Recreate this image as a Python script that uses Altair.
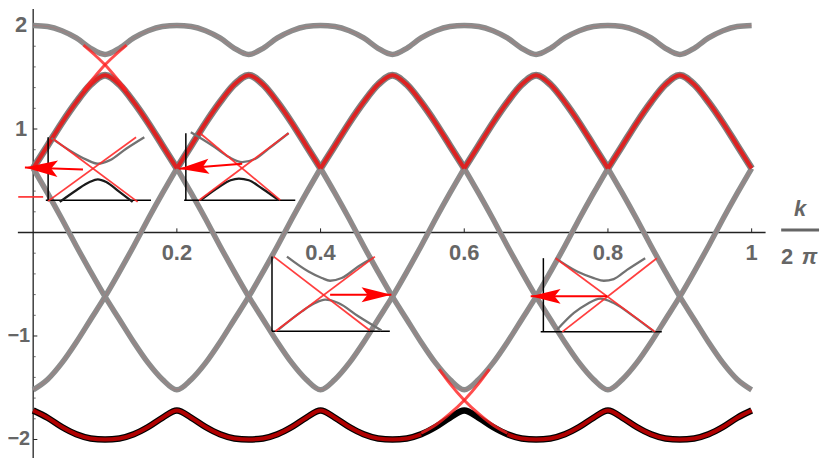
import altair as alt
import pandas as pd

# ---------------- data (x = k/2π, y = energy) ----------------
K = [round(i * 0.02, 2) for i in range(51)]

BAND_TOP = [2.00, 1.99, 1.95, 1.88, 1.78, 1.72, 1.78, 1.88, 1.95, 1.99,
            2.00, 1.99, 1.95, 1.88, 1.78, 1.72, 1.78, 1.88, 1.95, 1.99,
            2.00, 1.99, 1.95, 1.88, 1.78, 1.72, 1.78, 1.88, 1.95, 1.99,
            2.00, 1.99, 1.95, 1.88, 1.78, 1.72, 1.78, 1.88, 1.95, 1.99,
            2.00, 1.99, 1.95, 1.88, 1.78, 1.72, 1.78, 1.88, 1.95, 1.99,
            2.00]
BAND_SECOND = [0.62, 0.84, 1.06, 1.26, 1.43, 1.52, 1.43, 1.26, 1.06, 0.84,
               0.62, 0.84, 1.06, 1.26, 1.43, 1.52, 1.43, 1.26, 1.06, 0.84,
               0.62, 0.84, 1.06, 1.26, 1.43, 1.52, 1.43, 1.26, 1.06, 0.84,
               0.62, 0.84, 1.06, 1.26, 1.43, 1.52, 1.43, 1.26, 1.06, 0.84,
               0.62, 0.84, 1.06, 1.26, 1.43, 1.52, 1.43, 1.26, 1.06, 0.84,
               0.62]
BAND_DOWN = [0.62, 0.38, 0.13, -0.13, -0.38, -0.62, -0.84, -1.06, -1.26, -1.42,
             -1.52, -1.42, -1.26, -1.06, -0.84, -0.62, -0.38, -0.13, 0.13, 0.38,
             0.62, 0.38, 0.13, -0.13, -0.38, -0.62, -0.84, -1.06, -1.26, -1.42,
             -1.52, -1.42, -1.26, -1.06, -0.84, -0.62, -0.38, -0.13, 0.13, 0.38,
             0.62, 0.38, 0.13, -0.13, -0.38, -0.62, -0.84, -1.06, -1.26, -1.42,
             -1.52]
BAND_UP = [-1.52, -1.42, -1.26, -1.06, -0.84, -0.62, -0.38, -0.13, 0.13, 0.38,
           0.62, 0.38, 0.13, -0.13, -0.38, -0.62, -0.84, -1.06, -1.26, -1.42,
           -1.52, -1.42, -1.26, -1.06, -0.84, -0.62, -0.38, -0.13, 0.13, 0.38,
           0.62, 0.38, 0.13, -0.13, -0.38, -0.62, -0.84, -1.06, -1.26, -1.42,
           -1.52, -1.42, -1.26, -1.06, -0.84, -0.62, -0.38, -0.13, 0.13, 0.38,
           0.62]
BAND_BOTTOM = [-1.72, -1.79, -1.88, -1.95, -1.99, -2.00, -1.99, -1.95, -1.88, -1.79,
               -1.72, -1.79, -1.88, -1.95, -1.99, -2.00, -1.99, -1.95, -1.88, -1.79,
               -1.72, -1.79, -1.88, -1.95, -1.99, -2.00, -1.99, -1.95, -1.88, -1.79,
               -1.72, -1.79, -1.88, -1.95, -1.99, -2.00, -1.99, -1.95, -1.88, -1.79,
               -1.72, -1.79, -1.88, -1.95, -1.99, -2.00, -1.99, -1.95, -1.88, -1.79,
               -1.72]

# bright red crossings
CROSS_TOP_K = [0.07, 0.085, 0.10, 0.115, 0.13]
CROSS_TOP_A = [1.81, 1.72, 1.62, 1.50, 1.37]
CROSS_TOP_B = [1.37, 1.50, 1.62, 1.72, 1.81]
CROSS_BOT_KA = [0.54, 0.56, 0.58, 0.60, 0.62, 0.635]
CROSS_BOT_A = [-1.94, -1.86, -1.75, -1.62, -1.46, -1.32]
CROSS_BOT_KB = [0.565, 0.58, 0.60, 0.62, 0.64, 0.66]
CROSS_BOT_B = [-1.32, -1.46, -1.62, -1.75, -1.86, -1.94]

# insets (drawn in the main data coordinates)
INSET_AXES = [  # k1, k2, E1, E2
    (0.0208, 0.0208, 0.303, 0.921), (0.0176, 0.164, 0.3125, 0.3125),
    (0.2125, 0.2125, 0.3125, 0.960), (0.2101, 0.3648, 0.3125, 0.3125),
    (0.3324, 0.3324, -0.954, -0.233), (0.3324, 0.4964, -0.954, -0.954),
    (0.7101, 0.7101, -0.960, -0.248), (0.7064, 0.8749, -0.960, -0.960),
]
INSET_RED = [
    (0.0277, 0.1454, 0.906, 0.296), (0.0208, 0.1432, 0.303, 0.921),
    (0.2332, 0.3440, 0.954, 0.3125), (0.2309, 0.3555, 0.3125, 0.960),
    (0.3348, 0.4687, -0.233, -0.947), (0.3371, 0.4756, -0.954, -0.233),
    (0.7271, 0.8657, -0.248, -0.960), (0.7364, 0.8680, -0.960, -0.248),
    (-0.0208, 0.0139, 0.344, 0.344),
]
INSET_GREY = [
    ([0.0255, 0.0508, 0.0740, 0.0900, 0.1062, 0.1294, 0.1547],
     [0.912, 0.793, 0.704, 0.665, 0.697, 0.810, 0.921]),
    ([0.2194, 0.2493, 0.2724, 0.2909, 0.3094, 0.3278, 0.3555],
     [0.969, 0.841, 0.729, 0.681, 0.713, 0.810, 0.960]),
    ([0.3532, 0.3832, 0.4017, 0.4133, 0.4294, 0.4525, 0.4733],
     [-0.233, -0.377, -0.440, -0.466, -0.440, -0.329, -0.242]),
    ([0.3417, 0.3740, 0.3925, 0.4064, 0.4248, 0.4525, 0.4848],
     [-0.9375, -0.762, -0.681, -0.649, -0.681, -0.810, -0.947]),
    ([0.7271, 0.7572, 0.7803, 0.7942, 0.8080, 0.8265, 0.8518],
     [-0.248, -0.377, -0.440, -0.466, -0.450, -0.361, -0.248]),
    ([0.7294, 0.7526, 0.7711, 0.7895, 0.8080, 0.8357, 0.8634],
     [-0.9375, -0.777, -0.690, -0.639, -0.681, -0.810, -0.954]),
]
INSET_BLACK = [
    ([0.0370, 0.0601, 0.0785, 0.0900, 0.1017, 0.1201, 0.1385],
     [0.296, 0.409, 0.488, 0.514, 0.488, 0.392, 0.296]),
    ([0.2332, 0.2586, 0.2748, 0.2863, 0.3001, 0.3186, 0.3417],
     [0.3125, 0.440, 0.505, 0.521, 0.505, 0.425, 0.3125]),
]
ARROW_START_K = [0.0693, 0.2909, 0.4133, 0.7987]
ARROW_START_E = [0.608, 0.665, -0.601, -0.617]
ARROW_TIP_K = [-0.0115, 0.2032, 0.4986, 0.6925]
ARROW_TIP_E = [0.627, 0.617, -0.601, -0.617]
ARROW_ANGLE = [2, 355.5, 180, 0]
ARROW_SIZE = [4356, 3600, 3600, 3600]

Y_TICKS = [-2, -1, 1, 2]
Y_LABELS = ["\u22122", "\u22121", "1", "2"]
Y_MINOR = [-1.8, -1.6, -1.4, -1.2, -0.8, -0.6, -0.4, -0.2, 0.2, 0.4, 0.6, 0.8,
           1.2, 1.4, 1.6, 1.8]
X_TICKS = [0.2, 0.4, 0.6, 0.8, 1.0]
X_LABELS = ["0.2", "0.4", "0.6", "0.8", "1"]

# ---------------- chart geometry ----------------
W, H = 818, 451
K_MIN, K_MAX = -0.03504, 1.09792
E_MIN, E_MAX = -2.17789, 2.15865

XS = alt.Scale(domain=[K_MIN, K_MAX], nice=False, zero=False)
YS = alt.Scale(domain=[E_MIN, E_MAX], nice=False, zero=False)


def seg_df(ks, vs, bounds):
    rows = []
    for s in range(len(bounds) - 1):
        for i in range(bounds[s], bounds[s + 1] + 1):
            rows.append({"k": ks[i], "E": vs[i], "seg": s, "i": i})
    return pd.DataFrame(rows)


def line(df, color, width, opacity=1.0, interp="monotone"):
    return alt.Chart(df).mark_line(
        color=color, strokeWidth=width, opacity=opacity, interpolate=interp,
        strokeCap="butt", strokeJoin="round"
    ).encode(
        x=alt.X("k:Q", scale=XS, axis=None),
        y=alt.Y("E:Q", scale=YS, axis=None),
        detail="seg:N",
        order="i:Q",
    )


def rules(rows, color, width, opacity=1.0):
    df = pd.DataFrame(rows, columns=["k", "k2", "E", "E2"])
    return alt.Chart(df).mark_rule(color=color, strokeWidth=width, opacity=opacity).encode(
        x=alt.X("k:Q", scale=XS, axis=None), x2="k2:Q",
        y=alt.Y("E:Q", scale=YS, axis=None), y2="E2:Q",
    )


def curves_df(curves):
    rows = []
    for s, (ks, vs) in enumerate(curves):
        for i, (k, v) in enumerate(zip(ks, vs)):
            rows.append({"k": k, "E": v, "seg": s, "i": i})
    return pd.DataFrame(rows)


GREY = "#8c8c8c"
FAINT_RED = "#e04848"

layers = []

# axes
layers.append(rules([(-0.0213, 1.0194, 0, 0)], "#222222", 1.3))
layers.append(rules([(0, 0, E_MIN, E_MAX)], "#222222", 1.3))
layers.append(rules([(x, x, 0, 0.04) for x in X_TICKS], "#222222", 1.0))
layers.append(rules([(0, 0.0058, y, y) for y in Y_TICKS], "#222222", 1.0))
layers.append(rules([(0, 0.0035, y, y) for y in Y_MINOR], "#444444", 0.8))

# grey crossing bands
down = seg_df(K, BAND_DOWN, [0, 20, 40, 50])
up = seg_df(K, BAND_UP, [0, 10, 30, 50])
top = seg_df(K, BAND_TOP, [0, 50])
for d in (down, up, top):
    layers.append(line(d, GREY, 5.5))
    layers.append(line(d, FAINT_RED, 1.0, opacity=0.22))

# second band (red on grey)
second = seg_df(K, BAND_SECOND, [0, 10, 20, 30, 40, 50])
layers.append(line(second, "#7f7f7f", 7))
layers.append(line(second, "#dd2222", 4))

# bottom band (dark red on black)
layers.append(line(seg_df(K, BAND_BOTTOM, [0, 50]), "#000000", 6.5))
layers.append(line(seg_df(K, BAND_BOTTOM, [0, 27]), "#b00000", 4))
layers.append(line(seg_df(K, BAND_BOTTOM, [33, 50]), "#b00000", 4))

# bright red crossings
cross = curves_df([(CROSS_TOP_K, CROSS_TOP_A), (CROSS_TOP_K, CROSS_TOP_B),
                   (CROSS_BOT_KA, CROSS_BOT_A), (CROSS_BOT_KB, CROSS_BOT_B)])
layers.append(line(cross, "#ff2020", 3, opacity=0.8))

# insets
layers.append(rules(INSET_AXES, "#000000", 1.5))
layers.append(line(curves_df(INSET_GREY), "#727272", 2.3))
layers.append(line(curves_df(INSET_BLACK), "#1a1a1a", 2.3))
layers.append(rules(INSET_RED, "#ff2a2a", 1.8, opacity=0.9))

# arrows
shaft_rows = [(a, b, c, d) for a, b, c, d in zip(ARROW_START_K, ARROW_TIP_K, ARROW_START_E, ARROW_TIP_E)]
layers.append(rules(shaft_rows, "#ff0000", 2))
heads = pd.DataFrame({"k": ARROW_TIP_K, "E": ARROW_TIP_E, "ang": ARROW_ANGLE, "sz": ARROW_SIZE})
layers.append(alt.Chart(heads).mark_point(
    shape="M0,0L1,-0.25L0.8,0L1,0.25Z", filled=True, color="#ff0000", opacity=1, strokeWidth=0
).encode(
    x=alt.X("k:Q", scale=XS, axis=None), y=alt.Y("E:Q", scale=YS, axis=None),
    angle=alt.Angle("ang:Q", scale=None), size=alt.Size("sz:Q", scale=None),
))

# tick labels
LABEL_STYLE = dict(font="Liberation Sans", fontWeight="bold", color="#666666")
ylab = pd.DataFrame({"k": [0] * len(Y_TICKS), "E": Y_TICKS, "t": Y_LABELS})
layers.append(alt.Chart(ylab[ylab["E"] > 0]).mark_text(
    align="right", baseline="middle", dx=-6, fontSize=22, **LABEL_STYLE).encode(
    x=alt.X("k:Q", scale=XS, axis=None), y=alt.Y("E:Q", scale=YS, axis=None), text="t:N"))
layers.append(alt.Chart(ylab[ylab["E"] < 0]).mark_text(
    align="right", baseline="middle", dx=-3, fontSize=20, **LABEL_STYLE).encode(
    x=alt.X("k:Q", scale=XS, axis=None), y=alt.Y("E:Q", scale=YS, axis=None), text="t:N"))
xlab = pd.DataFrame({"k": X_TICKS, "E": [0] * len(X_TICKS), "t": X_LABELS})
layers.append(alt.Chart(xlab).mark_text(
    align="center", baseline="middle", dy=21, fontSize=22, **LABEL_STYLE).encode(
    x=alt.X("k:Q", scale=XS, axis=None), y=alt.Y("E:Q", scale=YS, axis=None), text="t:N"))

# axis label k / 2π
AX_LABEL_K = [1.0675, 1.0494, 1.0806]
AX_LABEL_E = [0.226, -0.2356, -0.2356]
AX_LABEL_T = ["k", "2", "\u03c0"]
AX_LABEL_STYLE = ["italic", "normal", "italic"]
axl = pd.DataFrame({"k": AX_LABEL_K, "E": AX_LABEL_E, "t": AX_LABEL_T, "st": AX_LABEL_STYLE})
for st in ("italic", "normal"):
    layers.append(alt.Chart(axl[axl["st"] == st]).mark_text(
        align="center", baseline="middle", fontStyle=st, fontSize=22, **LABEL_STYLE
    ).encode(x=alt.X("k:Q", scale=XS, axis=None), y=alt.Y("E:Q", scale=YS, axis=None), text="t:N"))
layers.append(rules([(1.0411, 1.0938, 0.024, 0.024)], "#666666", 3))

chart = alt.layer(*layers).properties(
    width=W, height=H, autosize=alt.AutoSizeParams(type="none"), padding=0
).configure_view(stroke=None)

chart.save("out.html", embed_options={"renderer": "svg", "actions": False})
